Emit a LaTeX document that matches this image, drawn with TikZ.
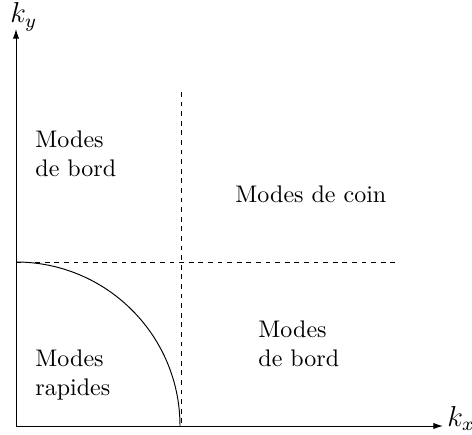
\documentclass[tikz,border=0pt]{standalone}
\usetikzlibrary{arrows.meta}
\begin{document}
\begin{tikzpicture}[x=0.41667pt,y=0.41667pt,
  axis/.style={line width=0.4pt,-{Latex[length=4pt,width=2.6pt]}},
  guide/.style={line width=0.4pt,dash pattern=on 2pt off 2pt},
  region/.style={anchor=base west,align=left,inner sep=0pt,font=\normalsize},
  axlabel/.style={anchor=base west,inner sep=0pt,font=\large}]
\useasboundingbox (0,0) rectangle (472,434);
\coordinate (O) at (16,8);
\coordinate (ytip) at (16,405);
\coordinate (xtip) at (443,8);
\coordinate (dvtop) at (181.5,342);
\coordinate (dvbot) at (181.5,8);
\coordinate (dhl) at (16,172);
\coordinate (dhr) at (399,172);
\draw[axis] (O) -- (ytip);
\draw[axis] (O) -- (xtip);
\draw[guide] (dvtop) -- (dvbot);
\draw[guide] (dhl) -- (dhr);
\draw[line width=0.4pt] (dhl) arc[start angle=90,end angle=0,radius=164];
\node[axlabel] (ky) at (10,411) {$k_y$};
\node[axlabel] (kx) at (447,8) {$k_x$};
\node[region] (bordA) at (35,258) {Modes\\de bord};
\node[region] (coin) at (235,232) {Modes de coin};
\node[region] (bordB) at (258,68) {Modes\\de bord};
\node[region] (rapides) at (35,39) {Modes\\rapides};
\end{tikzpicture}
\end{document}
